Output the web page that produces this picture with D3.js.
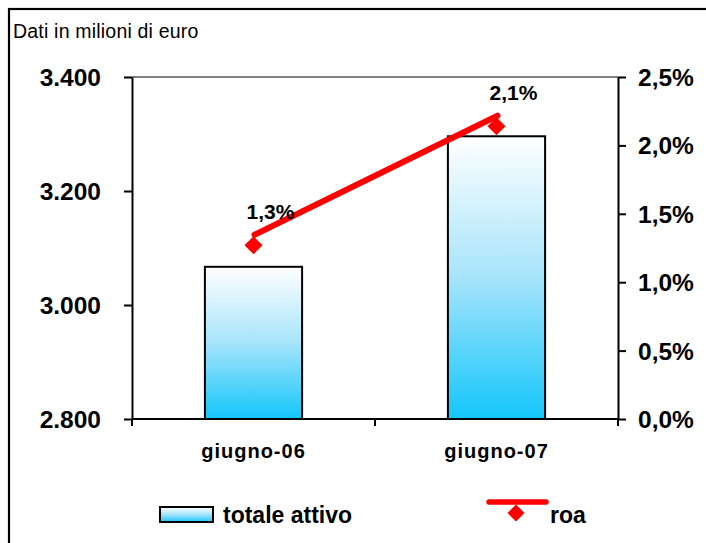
<!DOCTYPE html>
<html><head><meta charset="utf-8">
<script src="https://cdn.jsdelivr.net/npm/d3@7"></script>
<style>
html,body{margin:0;padding:0;background:#fff;}
svg{display:block;font-family:"Liberation Sans",Arial,sans-serif;}
</style></head>
<body>
<svg id="c" width="706" height="543"></svg>
<script>
// ---- data ----
const categories = ["giugno-06", "giugno-07"];
const totaleAttivo = [3067, 3296];
const roa = [1.27, 2.14];
const leftTicks = [2800, 3000, 3200, 3400];
const rightTicks = [0, 0.5, 1.0, 1.5, 2.0, 2.5];
const unitLabel = "Dati in milioni di euro";
const seriesNames = ["totale attivo", "roa"];

const it = d3.formatLocale({decimal: ",", thousands: ".", grouping: [3], currency: ["€", ""]});
const fmtLeft = it.format(",.0f");
const fmtRight = v => it.format(".1f")(v) + "%";

const svg = d3.select("#c");
const L = 132, R = 618, T = 77, B = 419;

// outer frame
svg.append("rect").attr("x", 9).attr("y", 9).attr("width", 760).attr("height", 600)
  .attr("fill", "none").attr("stroke", "#000").attr("stroke-width", 2.2);

svg.append("text").attr("x", 13).attr("y", 38).attr("font-size", 19.5)
  .attr("letter-spacing", 0.2).text(unitLabel);

const x = d3.scaleBand().domain(categories).range([L, R]).padding(0);
const yL = d3.scaleLinear().domain([2800, 3400]).range([B, T]);
const yR = d3.scaleLinear().domain([0, 2.5]).range([B, T]);

// gradient
const defs = svg.append("defs");
const g = defs.append("linearGradient").attr("id", "barGrad")
  .attr("x1", 0).attr("y1", 0).attr("x2", 0).attr("y2", 1);
g.append("stop").attr("offset", "0%").attr("stop-color", "#ffffff");
g.append("stop").attr("offset", "50%").attr("stop-color", "#a6e4fb");
g.append("stop").attr("offset", "100%").attr("stop-color", "#14c6fb");

// top border of plot
svg.append("line").attr("x1", L).attr("x2", R).attr("y1", T).attr("y2", T)
  .attr("stroke", "#808080").attr("stroke-width", 2);

// bars
const bw = x.bandwidth() * 0.4;
svg.selectAll("rect.bar").data(totaleAttivo).join("rect").attr("class", "bar")
  .attr("x", (d, i) => x(categories[i]) + x.bandwidth() / 2 - bw / 2)
  .attr("width", bw)
  .attr("y", d => yL(d))
  .attr("height", d => B - yL(d))
  .attr("fill", "url(#barGrad)").attr("stroke", "#000").attr("stroke-width", 2);

// axes
function styleAxis(sel) {
  sel.selectAll("path.domain").attr("stroke", "#000").attr("stroke-width", 2);
  sel.selectAll(".tick line").attr("stroke", "#000").attr("stroke-width", 2);
  sel.selectAll(".tick text").attr("fill", "#000").attr("font-weight", "bold")
    .attr("font-size", 24.5).attr("font-family", "Liberation Sans, Arial, sans-serif");
}
const axL = svg.append("g").attr("transform", `translate(${L},0)`)
  .call(d3.axisLeft(yL).tickValues(leftTicks).tickFormat(fmtLeft).tickSize(8).tickSizeOuter(0).tickPadding(23));
styleAxis(axL);
axL.selectAll(".tick text").attr("dy", "0.35em");
const axR = svg.append("g").attr("transform", `translate(${R},0)`)
  .call(d3.axisRight(yR).tickValues(rightTicks).tickFormat(fmtRight).tickSize(8).tickSizeOuter(0).tickPadding(12));
styleAxis(axR);
axR.selectAll(".tick text").attr("dy", "0.35em");

// bottom axis
svg.append("line").attr("x1", L).attr("x2", R).attr("y1", B).attr("y2", B)
  .attr("stroke", "#000").attr("stroke-width", 2);
const bTicks = categories.map(c => x(c)).concat([x.range()[1]]);
svg.selectAll("line.bt").data(bTicks).join("line").attr("class", "bt")
  .attr("x1", d => d).attr("x2", d => d).attr("y1", B).attr("y2", B + 7)
  .attr("stroke", "#000").attr("stroke-width", 2);
svg.selectAll("text.cat").data(categories).join("text").attr("class", "cat")
  .attr("x", d => x(d) + x.bandwidth() / 2).attr("y", 458)
  .attr("text-anchor", "middle").attr("font-weight", "bold").attr("font-size", 20)
  .attr("letter-spacing", 1).text(d => d);

// roa line (rendered slightly offset from markers as in reference)
const cx = i => x(categories[i]) + x.bandwidth() / 2;
const line = d3.line().x((d, i) => cx(i)).y(d => yR(d));
svg.append("path").datum(roa).attr("d", line)
  .attr("transform", "translate(1,-10.5)")
  .attr("fill", "none").attr("stroke", "#ff0000").attr("stroke-width", 6).attr("stroke-linecap", "round");
const diamond = (s) => `M0,${-s}L${s},0L0,${s}L${-s},0Z`;
svg.selectAll("path.mk").data(roa).join("path").attr("class", "mk")
  .attr("d", diamond(9))
  .attr("transform", (d, i) => `translate(${cx(i)},${yR(d)})`)
  .attr("fill", "#ff0000");
svg.selectAll("text.dl").data(roa).join("text").attr("class", "dl")
  .attr("x", (d, i) => cx(i) + 17).attr("y", d => yR(d) - 26)
  .attr("text-anchor", "middle").attr("font-weight", "bold").attr("font-size", 21)
  .text(d => fmtRight(d));

// legend
svg.append("rect").attr("x", 160).attr("y", 507).attr("width", 53).attr("height", 15)
  .attr("fill", "url(#barGrad)").attr("stroke", "#000").attr("stroke-width", 2);
svg.append("text").attr("x", 223).attr("y", 523).attr("font-weight", "bold").attr("font-size", 23)
  .text(seriesNames[0]);
svg.append("line").attr("x1", 489).attr("x2", 546).attr("y1", 502).attr("y2", 502)
  .attr("stroke", "#ff0000").attr("stroke-width", 5.5).attr("stroke-linecap", "round");
svg.append("path").attr("d", diamond(8.5)).attr("transform", "translate(516,513)").attr("fill", "#ff0000");
svg.append("text").attr("x", 550).attr("y", 523).attr("font-weight", "bold").attr("font-size", 23)
  .text(seriesNames[1]);
</script>
</body></html>
